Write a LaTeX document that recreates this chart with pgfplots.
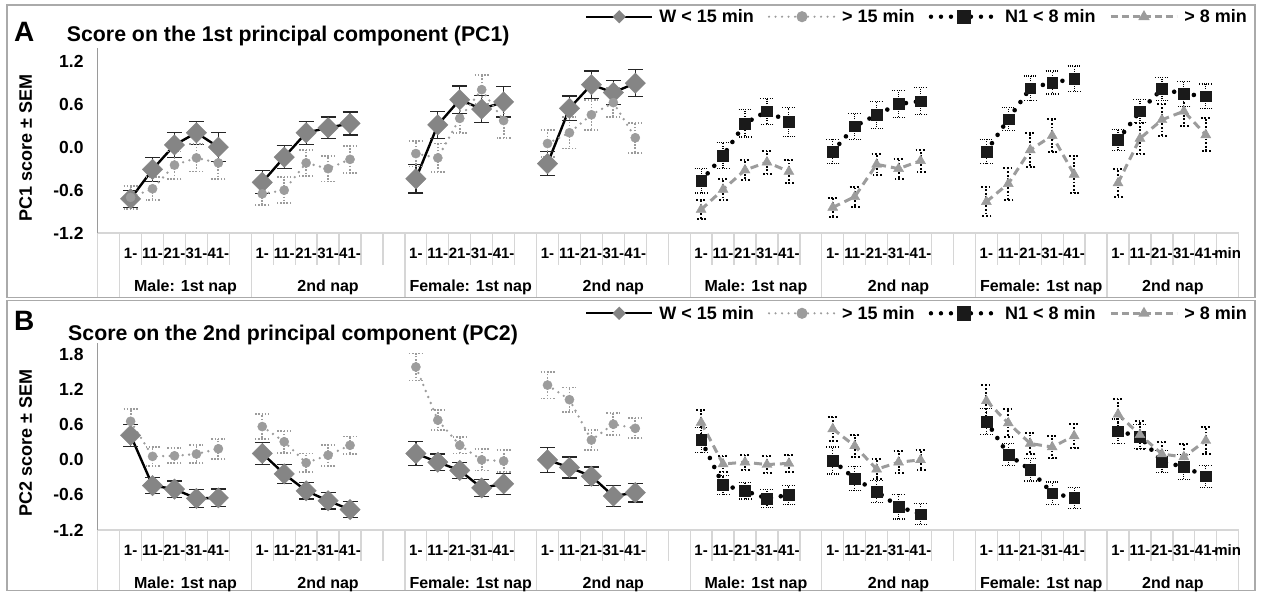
\documentclass[border=0pt]{standalone}
\usepackage{fontspec}
\setmainfont{Liberation Sans}
\usepackage{pgfplots}
\usepackage{pgfplotstable}
\pgfplotsset{compat=1.18}

\definecolor{mk}{HTML}{858585}
\definecolor{gl}{HTML}{9C9C9C}
\definecolor{sq}{HTML}{1A1A1A}
\definecolor{frame}{HTML}{AAAAAA}
\definecolor{sep}{HTML}{D6D6D6}
\definecolor{yax}{HTML}{9A9A9A}

\newcommand{\fs}[1]{\fontsize{#1}{#1}\selectfont\bfseries}

% PC1: W < 15 min
\pgfplotstableread{
x y e
1.5 -0.72 0.12
2.5 -0.31 0.17
3.5 0.03 0.17
4.5 0.20 0.16
5.5 0.00 0.20
6.5 nan 0
7.5 -0.49 0.16
8.5 -0.14 0.16
9.5 0.20 0.16
10.5 0.27 0.15
11.5 0.33 0.16
12.5 nan 0
14.5 -0.44 0.20
15.5 0.31 0.19
16.5 0.66 0.19
17.5 0.53 0.19
18.5 0.63 0.21
19.5 nan 0
20.5 -0.23 0.17
21.5 0.54 0.17
22.5 0.87 0.19
23.5 0.76 0.17
24.5 0.89 0.19
}\WA
% PC1: > 15 min
\pgfplotstableread{
x y e
1.5 -0.70 0.16
2.5 -0.58 0.16
3.5 -0.25 0.19
4.5 -0.15 0.19
5.5 -0.22 0.22
6.5 nan 0
7.5 -0.65 0.16
8.5 -0.60 0.18
9.5 -0.22 0.18
10.5 -0.30 0.18
11.5 -0.17 0.19
12.5 nan 0
14.5 -0.09 0.18
15.5 -0.15 0.20
16.5 0.40 0.20
17.5 0.80 0.20
18.5 0.37 0.24
19.5 nan 0
20.5 0.05 0.19
21.5 0.20 0.22
22.5 0.45 0.21
23.5 0.62 0.20
24.5 0.13 0.21
}\GA
% PC1: N1 < 8 min
\pgfplotstableread{
x y e
27.5 -0.47 0.17
28.5 -0.12 0.18
29.5 0.33 0.19
30.5 0.50 0.18
31.5 0.35 0.20
32.5 nan 0
33.5 -0.06 0.17
34.5 0.29 0.18
35.5 0.45 0.19
36.5 0.60 0.19
37.5 0.64 0.19
38.5 nan 0
40.5 -0.06 0.17
41.5 0.39 0.16
42.5 0.82 0.17
43.5 0.90 0.16
44.5 0.95 0.18
45.5 nan 0
46.5 0.10 0.15
47.5 0.50 0.16
48.5 0.81 0.16
49.5 0.74 0.17
50.5 0.71 0.17
}\NA
% PC1: > 8 min
\pgfplotstableread{
x y e
27.5 -0.87 0.13
28.5 -0.59 0.15
29.5 -0.32 0.14
30.5 -0.21 0.16
31.5 -0.34 0.16
32.5 nan 0
33.5 -0.84 0.13
34.5 -0.69 0.14
35.5 -0.24 0.15
36.5 -0.30 0.14
37.5 -0.19 0.15
38.5 nan 0
40.5 -0.76 0.20
41.5 -0.51 0.22
42.5 -0.04 0.23
43.5 0.16 0.23
44.5 -0.38 0.26
45.5 nan 0
46.5 -0.50 0.19
47.5 0.12 0.21
48.5 0.38 0.22
49.5 0.50 0.20
50.5 0.17 0.23
}\TA
% PC2: W < 15 min
\pgfplotstableread{
x y e
1.5 0.42 0.19
2.5 -0.44 0.14
3.5 -0.50 0.14
4.5 -0.66 0.15
5.5 -0.65 0.15
6.5 nan 0
7.5 0.11 0.19
8.5 -0.24 0.16
9.5 -0.53 0.14
10.5 -0.70 0.14
11.5 -0.85 0.14
12.5 nan 0
14.5 0.11 0.21
15.5 -0.04 0.14
16.5 -0.18 0.14
17.5 -0.48 0.15
18.5 -0.41 0.18
19.5 nan 0
20.5 0.00 0.21
21.5 -0.13 0.18
22.5 -0.28 0.16
23.5 -0.62 0.18
24.5 -0.56 0.16
}\WB
% PC2: > 15 min
\pgfplotstableread{
x y e
1.5 0.66 0.21
2.5 0.06 0.16
3.5 0.07 0.13
4.5 0.10 0.16
5.5 0.19 0.17
6.5 nan 0
7.5 0.57 0.21
8.5 0.31 0.19
9.5 -0.05 0.16
10.5 0.08 0.18
11.5 0.25 0.15
12.5 nan 0
14.5 1.59 0.23
15.5 0.68 0.17
16.5 0.25 0.14
17.5 0.00 0.18
18.5 -0.02 0.19
19.5 nan 0
20.5 1.28 0.23
21.5 1.03 0.21
22.5 0.34 0.17
23.5 0.61 0.19
24.5 0.54 0.17
}\GB
% PC2: N1 < 8 min
\pgfplotstableread{
x y e
27.5 0.34 0.22
28.5 -0.43 0.16
29.5 -0.53 0.14
30.5 -0.66 0.15
31.5 -0.60 0.16
32.5 nan 0
33.5 -0.01 0.23
34.5 -0.32 0.21
35.5 -0.54 0.19
36.5 -0.80 0.21
37.5 -0.93 0.18
38.5 nan 0
40.5 0.66 0.22
41.5 0.09 0.19
42.5 -0.17 0.19
43.5 -0.57 0.19
44.5 -0.65 0.18
45.5 nan 0
46.5 0.49 0.21
47.5 0.40 0.21
48.5 -0.03 0.19
49.5 -0.12 0.21
50.5 -0.28 0.19
}\NB
% PC2: > 8 min
\pgfplotstableread{
x y e
27.5 0.64 0.22
28.5 -0.07 0.14
29.5 -0.04 0.13
30.5 -0.08 0.14
31.5 -0.06 0.15
32.5 nan 0
33.5 0.53 0.20
34.5 0.24 0.19
35.5 -0.16 0.17
36.5 -0.04 0.19
37.5 0.00 0.17
38.5 nan 0
40.5 1.01 0.28
41.5 0.63 0.24
42.5 0.28 0.18
43.5 0.22 0.19
44.5 0.41 0.21
45.5 nan 0
46.5 0.78 0.27
47.5 0.43 0.24
48.5 0.10 0.20
49.5 0.05 0.23
50.5 0.33 0.23
}\TB

\pgfplotsset{
  panel/.style={
    scale only axis, width=1141pt,
    xmin=0, xmax=52, ymin=-1.2,
    clip=false, unbounded coords=jump,
    axis x line*=bottom, axis y line*=left,
    x axis line style={-, draw=sep, line width=2pt},
    y axis line style={-, draw=yax, line width=1.6pt},
    major tick length=0pt, minor tick length=0pt,
    xtick={1.5,2.5,3.5,4.5,5.5,7.5,8.5,9.5,10.5,11.5,14.5,15.5,16.5,17.5,18.5,20.5,21.5,22.5,23.5,24.5,
           27.5,28.5,29.5,30.5,31.5,33.5,34.5,35.5,36.5,37.5,40.5,41.5,42.5,43.5,44.5,46.5,47.5,48.5,49.5,50.5,51.5},
    xticklabels={1-,11-,21-,31-,41-,1-,11-,21-,31-,41-,1-,11-,21-,31-,41-,1-,11-,21-,31-,41-,
                 1-,11-,21-,31-,41-,1-,11-,21-,31-,41-,1-,11-,21-,31-,41-,1-,11-,21-,31-,41-,min},
    xticklabel style={font=\fs{15}, anchor=base, inner sep=0pt, yshift=-25pt},
    extra x ticks={4,10.5,17,23.5,30,36.5,43,49},
    extra x tick labels={Male: 1st nap,2nd nap,Female: 1st nap,2nd nap,Male: 1st nap,2nd nap,Female: 1st nap,2nd nap},
    extra x tick style={xticklabel style={font=\fs{16}, yshift=-33.4pt}},
    yticklabel style={font=\fs{17.5}, anchor=east, inner sep=0pt, xshift=-14pt},
    legend columns=4,
    legend cell align=left,
    legend style={draw=none, fill=none, inner sep=0pt, font=\fs{18},
      nodes={inner sep=0pt},
      /tikz/every odd column/.append style={column sep=6pt},
      /tikz/every even column/.append style={column sep=14pt}},
    legend image code/.code={\draw[mark repeat=2,mark phase=2,#1] plot coordinates {(0pt,0pt) (33pt,0pt) (66pt,0pt)};},
  },
  Wmk/.style={forget plot, only marks, mark=square*, mark size=7.2pt,
    mark options={rotate=45, fill=mk, draw=mk}},
  Wln/.style={forget plot, black, line width=2.4pt, mark=none,
    error bars/y dir=both, error bars/y explicit,
    error bars/error bar style={line width=1.3pt, black!85, solid},
    error bars/error mark options={rotate=90, line width=1.3pt, black!85, mark size=7.5pt, solid}},
  Gln/.style={forget plot, gl, line width=2.6pt, line cap=round, dash pattern=on 0pt off 6.5pt,
    mark=*, mark size=4.6pt, mark options={solid, fill=gl, draw=gl, line width=0.4pt},
    error bars/y dir=both, error bars/y explicit,
    error bars/error bar style={line width=1.8pt, gl, line cap=butt, dash pattern=on 1.6pt off 1.6pt},
    error bars/error mark options={rotate=90, line width=1.8pt, gl, mark size=7pt, line cap=butt, dash pattern=on 1.6pt off 1.6pt}},
  Nln/.style={forget plot, black, line width=4.6pt, line cap=round, dash pattern=on 0pt off 10pt,
    mark=square*, mark size=5.4pt, mark options={solid, fill=sq, draw=sq, line width=0.4pt},
    error bars/y dir=both, error bars/y explicit,
    error bars/error bar style={line width=1.2pt, black, line cap=butt, dash pattern=on 1pt off 1.3pt},
    error bars/error mark options={rotate=90, line width=1.2pt, black, mark size=6.5pt, line cap=butt, dash pattern=on 1pt off 1.3pt}},
  Tln/.style={forget plot, gl, line width=3pt, dash pattern=on 8pt off 5pt,
    mark=triangle*, mark size=5.8pt, mark options={solid, fill=gl, draw=gl, line width=0.4pt},
    error bars/y dir=both, error bars/y explicit,
    error bars/error bar style={line width=2pt, black, line cap=butt, dash pattern=on 1.8pt off 1.8pt},
    error bars/error mark options={rotate=90, line width=2pt, black, mark size=5pt, line cap=butt, dash pattern=on 1.8pt off 1.8pt}},
  legW/.style={black, line width=2.2pt, mark=square*, mark size=3.6pt, mark options={rotate=45, fill=mk, draw=mk}},
  legG/.style={gl, line width=2.4pt, line cap=round, dash pattern=on 0pt off 6.5pt, mark=*, mark size=4.3pt, mark options={solid, fill=gl, draw=gl}},
  legN/.style={black, line width=4.4pt, line cap=round, dash pattern=on 0pt off 10pt, mark=square*, mark size=5pt, mark options={solid, fill=sq, draw=sq}},
  legT/.style={gl, line width=2.6pt, dash pattern=on 7pt off 4pt, mark=triangle*, mark size=4pt, mark options={solid, fill=gl, draw=gl}},
}

\begin{document}
\begin{tikzpicture}
\path[use as bounding box] (0pt,0pt) rectangle (1261pt,-592pt);

% panel frames
\draw[frame, line width=1.8pt] (7pt,-5pt) rectangle (1255pt,-297.5pt);
\draw[frame, line width=1.8pt] (7pt,-300.5pt) rectangle (1255pt,-590.5pt);

% category separators
\foreach \k in {0,...,52} {
  \draw[sep, line width=1.3pt] ({97.7pt+21.9423pt*\k}, -233.3pt) -- ++(0pt,-32pt);
  \draw[sep, line width=1.3pt] ({97.7pt+21.9423pt*\k}, -530pt) -- ++(0pt,-31pt);
}
\foreach \k in {0,1,7,14,20,27,33,40,46,52} {
  \draw[sep, line width=1.3pt] ({97.7pt+21.9423pt*\k}, -233.3pt) -- ({97.7pt+21.9423pt*\k}, -296.6pt);
  \draw[sep, line width=1.3pt] ({97.7pt+21.9423pt*\k}, -530pt) -- ({97.7pt+21.9423pt*\k}, -589.6pt);
}

% Panel A
\begin{axis}[panel, at={(97.7pt,-233.3pt)}, anchor=south west,
  height=185.3pt, ymax=1.38,
  ytick={-1.2,-0.6,0,0.6,1.2}, yticklabels={-1.2,-0.6,0.0,0.6,1.2},
  legend style={at={(1.0073,1.1689)}, anchor=east}]
\addlegendimage{legW}\addlegendentry{W < 15 min}
\addlegendimage{legG}\addlegendentry{> 15 min}
\addlegendimage{legN}\addlegendentry{N1 < 8 min}
\addlegendimage{legT}\addlegendentry{> 8 min}
\addplot[Wmk] table[x=x,y=y]{\WA};
\addplot[Wln] table[x=x,y=y,y error=e]{\WA};
\addplot[Gln] table[x=x,y=y,y error=e]{\GA};
\addplot[Nln] table[x=x,y=y,y error=e]{\NA};
\addplot[Tln] table[x=x,y=y,y error=e]{\TA};
\end{axis}

% Panel B
\begin{axis}[panel, at={(97.7pt,-530pt)}, anchor=south west,
  height=187pt, ymax=2.0,
  ytick={-1.2,-0.6,0,0.6,1.2,1.8}, yticklabels={-1.2,-0.6,0.0,0.6,1.2,1.8},
  legend style={at={(1.0073,1.1588)}, anchor=east}]
\addlegendimage{legW}\addlegendentry{W < 15 min}
\addlegendimage{legG}\addlegendentry{> 15 min}
\addlegendimage{legN}\addlegendentry{N1 < 8 min}
\addlegendimage{legT}\addlegendentry{> 8 min}
\addplot[Wmk] table[x=x,y=y]{\WB};
\addplot[Wln] table[x=x,y=y,y error=e]{\WB};
\addplot[Gln] table[x=x,y=y,y error=e]{\GB};
\addplot[Nln] table[x=x,y=y,y error=e]{\NB};
\addplot[Tln] table[x=x,y=y,y error=e]{\TB};
\end{axis}

% titles and labels
\node[font=\fs{28}, anchor=base west, inner sep=0pt] at (14pt,-41.7pt) {A};
\node[font=\fs{21.3}, anchor=base west, inner sep=0pt] at (66.7pt,-41.7pt) {Score on the 1st principal component (PC1)};
\node[font=\fs{18}, rotate=90, inner sep=0pt] at (25.7pt,-148pt) {PC1 score ± SEM};
\node[font=\fs{28}, anchor=base west, inner sep=0pt] at (14pt,-330.7pt) {B};
\node[font=\fs{21.3}, anchor=base west, inner sep=0pt] at (68pt,-340pt) {Score on the 2nd principal component (PC2)};
\node[font=\fs{18}, rotate=90, inner sep=0pt] at (25.7pt,-442.7pt) {PC2 score ± SEM};
\end{tikzpicture}
\end{document}
